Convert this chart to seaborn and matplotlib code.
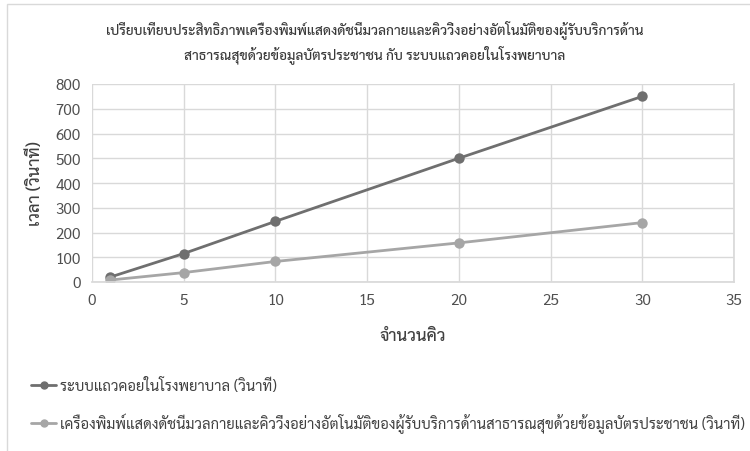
import matplotlib
matplotlib.use("Agg")
import matplotlib.pyplot as plt
from matplotlib.patches import Rectangle
from matplotlib.lines import Line2D
import pandas as pd
import seaborn as sns

# Queue sizes and measured times (seconds)
queue_sizes = [1, 5, 10, 20, 30]
hospital_queue = [20, 115, 245, 500, 750]
kiosk_system = [8, 38, 83, 158, 240]

label_hospital = "ระบบแถวคอยในโรงพยาบาล (วินาที)"
label_kiosk = ("เครื่องพิมพ์แสดงดัชนีมวลกายและคิววิ่งอย่างอัตโนมัติของผู้รับบริการ"
               "ด้านสาธารณสุขด้วยข้อมูลบัตรประชาชน (วินาที)")
title_lines = ["เปรียบเทียบประสิทธิภาพเครื่องพิมพ์แสดงดัชนีมวลกายและคิววิ่งอย่างอัตโนมัติของผู้รับบริการด้าน",
               "สาธารณสุขด้วยข้อมูลบัตรประชาชน กับ ระบบแถวคอยในโรงพยาบาล"]
x_title = "จำนวนคิว"
y_title = "เวลา (วินาที)"
x_ticks = [0, 5, 10, 15, 20, 25, 30, 35]
y_ticks = [0, 100, 200, 300, 400, 500, 600, 700, 800]

sns.set_theme(style="white")
plt.rcParams["font.family"] = ["Sarabun", "DejaVu Sans"]

W, H = 750, 452
fig = plt.figure(figsize=(W / 100, H / 100), dpi=100)
renderer = fig.canvas.get_renderer()


def size_for_width(text, target_px, base=12, weight="normal"):
    """Font size at which `text` spans about target_px pixels."""
    t = fig.text(0, 0, text, fontsize=base, fontweight=weight)
    w = t.get_window_extent(renderer).width
    t.remove()
    return base * target_px / w


title_fs = size_for_width(title_lines[0], 538, weight="medium")
legend_fs = size_for_width(label_kiosk, 684)

df = pd.DataFrame({
    "queue": queue_sizes * 2,
    "time": hospital_queue + kiosk_system,
    "series": [label_hospital] * len(queue_sizes) + [label_kiosk] * len(queue_sizes),
})
colors = {label_hospital: "#6f6f6f", label_kiosk: "#a6a6a6"}

ax = fig.add_axes([92 / W, 1 - 283 / H, (734 - 92) / W, (283 - 85) / H])

sns.lineplot(data=df, x="queue", y="time", hue="series", palette=colors,
             marker="o", markersize=7.5, markeredgewidth=0, linewidth=2,
             legend=False, ax=ax)

ax.set_xlim(0, 35)
ax.set_ylim(0, 800)
ax.set_xticks(x_ticks)
ax.set_yticks(y_ticks)
ax.grid(True, color="#d9d9d9", linewidth=1)
ax.set_axisbelow(True)
for side in ["top", "left"]:
    ax.spines[side].set_visible(False)
ax.spines["right"].set_color("#d9d9d9")
ax.spines["bottom"].set_color("#d9d9d9")
ax.tick_params(length=0, labelsize=11, colors="#505050", pad=8)

ax.set_xlabel(x_title, fontsize=12, color="#404040", labelpad=14, fontweight="medium")
ax.set_ylabel(y_title, fontsize=12, color="#404040", labelpad=8, fontweight="medium")

for line, ypx in zip(title_lines, [30, 55]):
    fig.text(0.5, 1 - ypx / H, line, ha="center", va="center",
             fontsize=title_fs, color="#3a3a3a", fontweight="medium")

handles = [
    Line2D([], [], color=colors[label_hospital], marker="o", markersize=5, linewidth=2),
    Line2D([], [], color=colors[label_kiosk], marker="o", markersize=5, linewidth=2),
]
# rows sit about 41 px apart
row_gap_pts = 34 * 72 / 100
fig.legend(handles, [label_hospital, label_kiosk], loc="upper left",
           bbox_to_anchor=(24 / W, 1 - 371 / H), frameon=False,
           fontsize=legend_fs, labelcolor="#404040", handlelength=1.7,
           handletextpad=0.25, labelspacing=row_gap_pts / legend_fs - 1.0,
           borderpad=0)

fig.patches.append(Rectangle((7 / W, -0.1), 1.0, 1 - 5 / H + 0.1,
                             transform=fig.transFigure, fill=False,
                             edgecolor="#d9d9d9", linewidth=1))

fig.savefig("out.png", dpi=100)
